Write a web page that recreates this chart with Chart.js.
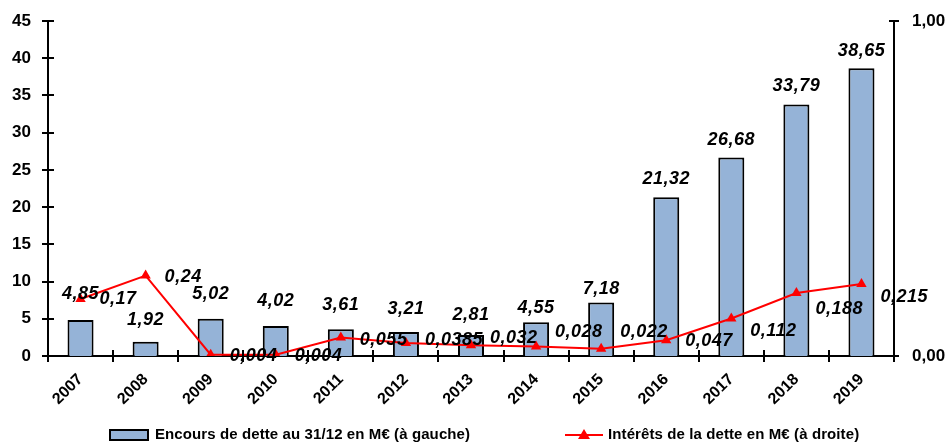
<!DOCTYPE html>
<html lang="fr">
<head>
<meta charset="UTF-8">
<title>Encours et intérêts de la dette</title>
<script src="https://cdn.jsdelivr.net/npm/chart.js"></script>
<style>
  html, body { margin: 0; padding: 0; background: #fff; }
  #wrap { width: 951px; height: 444px; }
</style>
</head>
<body>
<div id="wrap"><canvas id="chart" width="951" height="444"></canvas></div>
<script>
// data
const years = ['2007', '2008', '2009', '2010', '2011', '2012', '2013', '2014', '2015', '2016', '2017', '2018', '2019'];
const encours = [4.85, 1.92, 5.02, 4.02, 3.61, 3.21, 2.81, 4.55, 7.18, 21.32, 26.68, 33.79, 38.65];
const interets = [0.17, 0.24, 0.004, 0.004, 0.055, 0.0385, 0.032, 0.028, 0.022, 0.047, 0.112, 0.188, 0.215];
const leftTicks = [0, 5, 10, 15, 20, 25, 30, 35, 40, 45];
const rightTicks = [0, 1];
const barName = 'Encours de dette au 31/12 en M€ (à gauche)';
const lineName = 'Intérêts de la dette en M€ (à droite)';
// label nudges in px, as the labels were placed by hand in the original
const barLabelDy = [-26, -22, -25, -25, -24, -23, -20, -14, -14, -18, -17, -18, -17];
const lineLabelDy = [0, 1, 1, 1, 2, -3, -7, -15, -17, 1, 13, 16, 13];

const FONT = '"Liberation Sans", Arial, sans-serif';
const BAR_FILL = '#95B3D7';
const RED = '#FF0000';

function fr(v, d) {
  return (d === undefined ? String(v) : v.toFixed(d)).replace('.', ',');
}

const decor = {
  id: 'decor',
  afterDraw(chart) {
    const ctx = chart.ctx;
    const a = chart.chartArea;
    const y = chart.scales.y, y1 = chart.scales.y1;
    ctx.save();
    ctx.strokeStyle = '#000';
    ctx.lineWidth = 2;
    ctx.beginPath();
    leftTicks.forEach(v => {
      const py = Math.round(y.getPixelForValue(v));
      ctx.moveTo(a.left - 6, py); ctx.lineTo(a.left + 6, py);
    });
    rightTicks.forEach(v => {
      const py = Math.round(y1.getPixelForValue(v));
      ctx.moveTo(a.right - 5, py); ctx.lineTo(a.right + 5, py);
    });
    const n = years.length;
    for (let i = 0; i <= n; i++) {
      const px = Math.round(a.left + i * (a.right - a.left) / n);
      ctx.moveTo(px, a.bottom - 6); ctx.lineTo(px, a.bottom + 6);
    }
    ctx.stroke();

    // value labels
    ctx.fillStyle = '#000';
    ctx.font = 'italic bold 18px ' + FONT;
    if ('letterSpacing' in ctx) ctx.letterSpacing = '0.5px';
    ctx.textBaseline = 'middle';
    ctx.textAlign = 'center';
    chart.getDatasetMeta(0).data.forEach((bar, i) => {
      ctx.fillText(fr(encours[i], 2), bar.x, bar.y + barLabelDy[i]);
    });
    ctx.textAlign = 'left';
    chart.getDatasetMeta(1).data.forEach((pt, i) => {
      ctx.fillText(fr(interets[i]), pt.x + 19, pt.y + lineLabelDy[i]);
    });

    // legend
    ctx.font = 'bold 15px ' + FONT;
    if ('letterSpacing' in ctx) ctx.letterSpacing = '0.1px';
    const ly = 435;
    ctx.fillStyle = BAR_FILL;
    ctx.fillRect(110, ly - 5, 38, 10);
    ctx.strokeRect(110, ly - 5, 38, 10);
    ctx.fillStyle = '#000';
    ctx.fillText(barName, 155, ly);
    ctx.strokeStyle = RED;
    ctx.beginPath();
    ctx.moveTo(565, ly); ctx.lineTo(603, ly);
    ctx.stroke();
    ctx.fillStyle = RED;
    ctx.beginPath();
    ctx.moveTo(584, ly - 6); ctx.lineTo(590, ly + 4); ctx.lineTo(578, ly + 4);
    ctx.closePath();
    ctx.fill();
    ctx.fillStyle = '#000';
    ctx.fillText(lineName, 608, ly);
    ctx.restore();
  }
};

const ctx = document.getElementById('chart').getContext('2d');
new Chart(ctx, {
  data: {
    labels: years,
    datasets: [{
      type: 'bar',
      label: barName,
      data: encours,
      yAxisID: 'y',
      backgroundColor: BAR_FILL,
      borderColor: '#000',
      borderWidth: 2,
      barPercentage: 0.4,
      categoryPercentage: 1,
      order: 2
    }, {
      type: 'line',
      label: lineName,
      data: interets,
      yAxisID: 'y1',
      borderColor: RED,
      backgroundColor: RED,
      borderWidth: 2,
      pointStyle: 'triangle',
      pointRadius: 6,
      pointBorderWidth: 0,
      tension: 0,
      order: 1
    }]
  },
  options: {
    responsive: false,
    animation: false,
    layout: { padding: { top: 21, bottom: 0, left: 0, right: 0 } },
    plugins: { legend: { display: false }, tooltip: { enabled: false } },
    scales: {
      x: {
        grid: { display: false },
        border: { display: true, color: '#000', width: 2 },
        ticks: {
          color: '#000',
          font: { family: FONT, size: 16, weight: 'bold' },
          maxRotation: 45, minRotation: 45, autoSkip: false, padding: 6
        },
        afterFit(s) { s.height = 88; }
      },
      y: {
        position: 'left',
        min: 0, max: 45,
        grid: { display: false },
        border: { display: true, color: '#000', width: 2 },
        ticks: {
          stepSize: 5, color: '#000', padding: 9,
          font: { family: FONT, size: 17, weight: 'bold' }
        },
        afterFit(s) { s.width = 48; }
      },
      y1: {
        position: 'right',
        min: 0, max: 1,
        grid: { display: false },
        border: { display: true, color: '#000', width: 2 },
        ticks: {
          stepSize: 1, color: '#000', padding: 10,
          font: { family: FONT, size: 17, weight: 'bold' },
          callback: v => fr(v, 2)
        },
        afterFit(s) { s.width = 57; }
      }
    }
  },
  plugins: [decor]
});
</script>
</body>
</html>
